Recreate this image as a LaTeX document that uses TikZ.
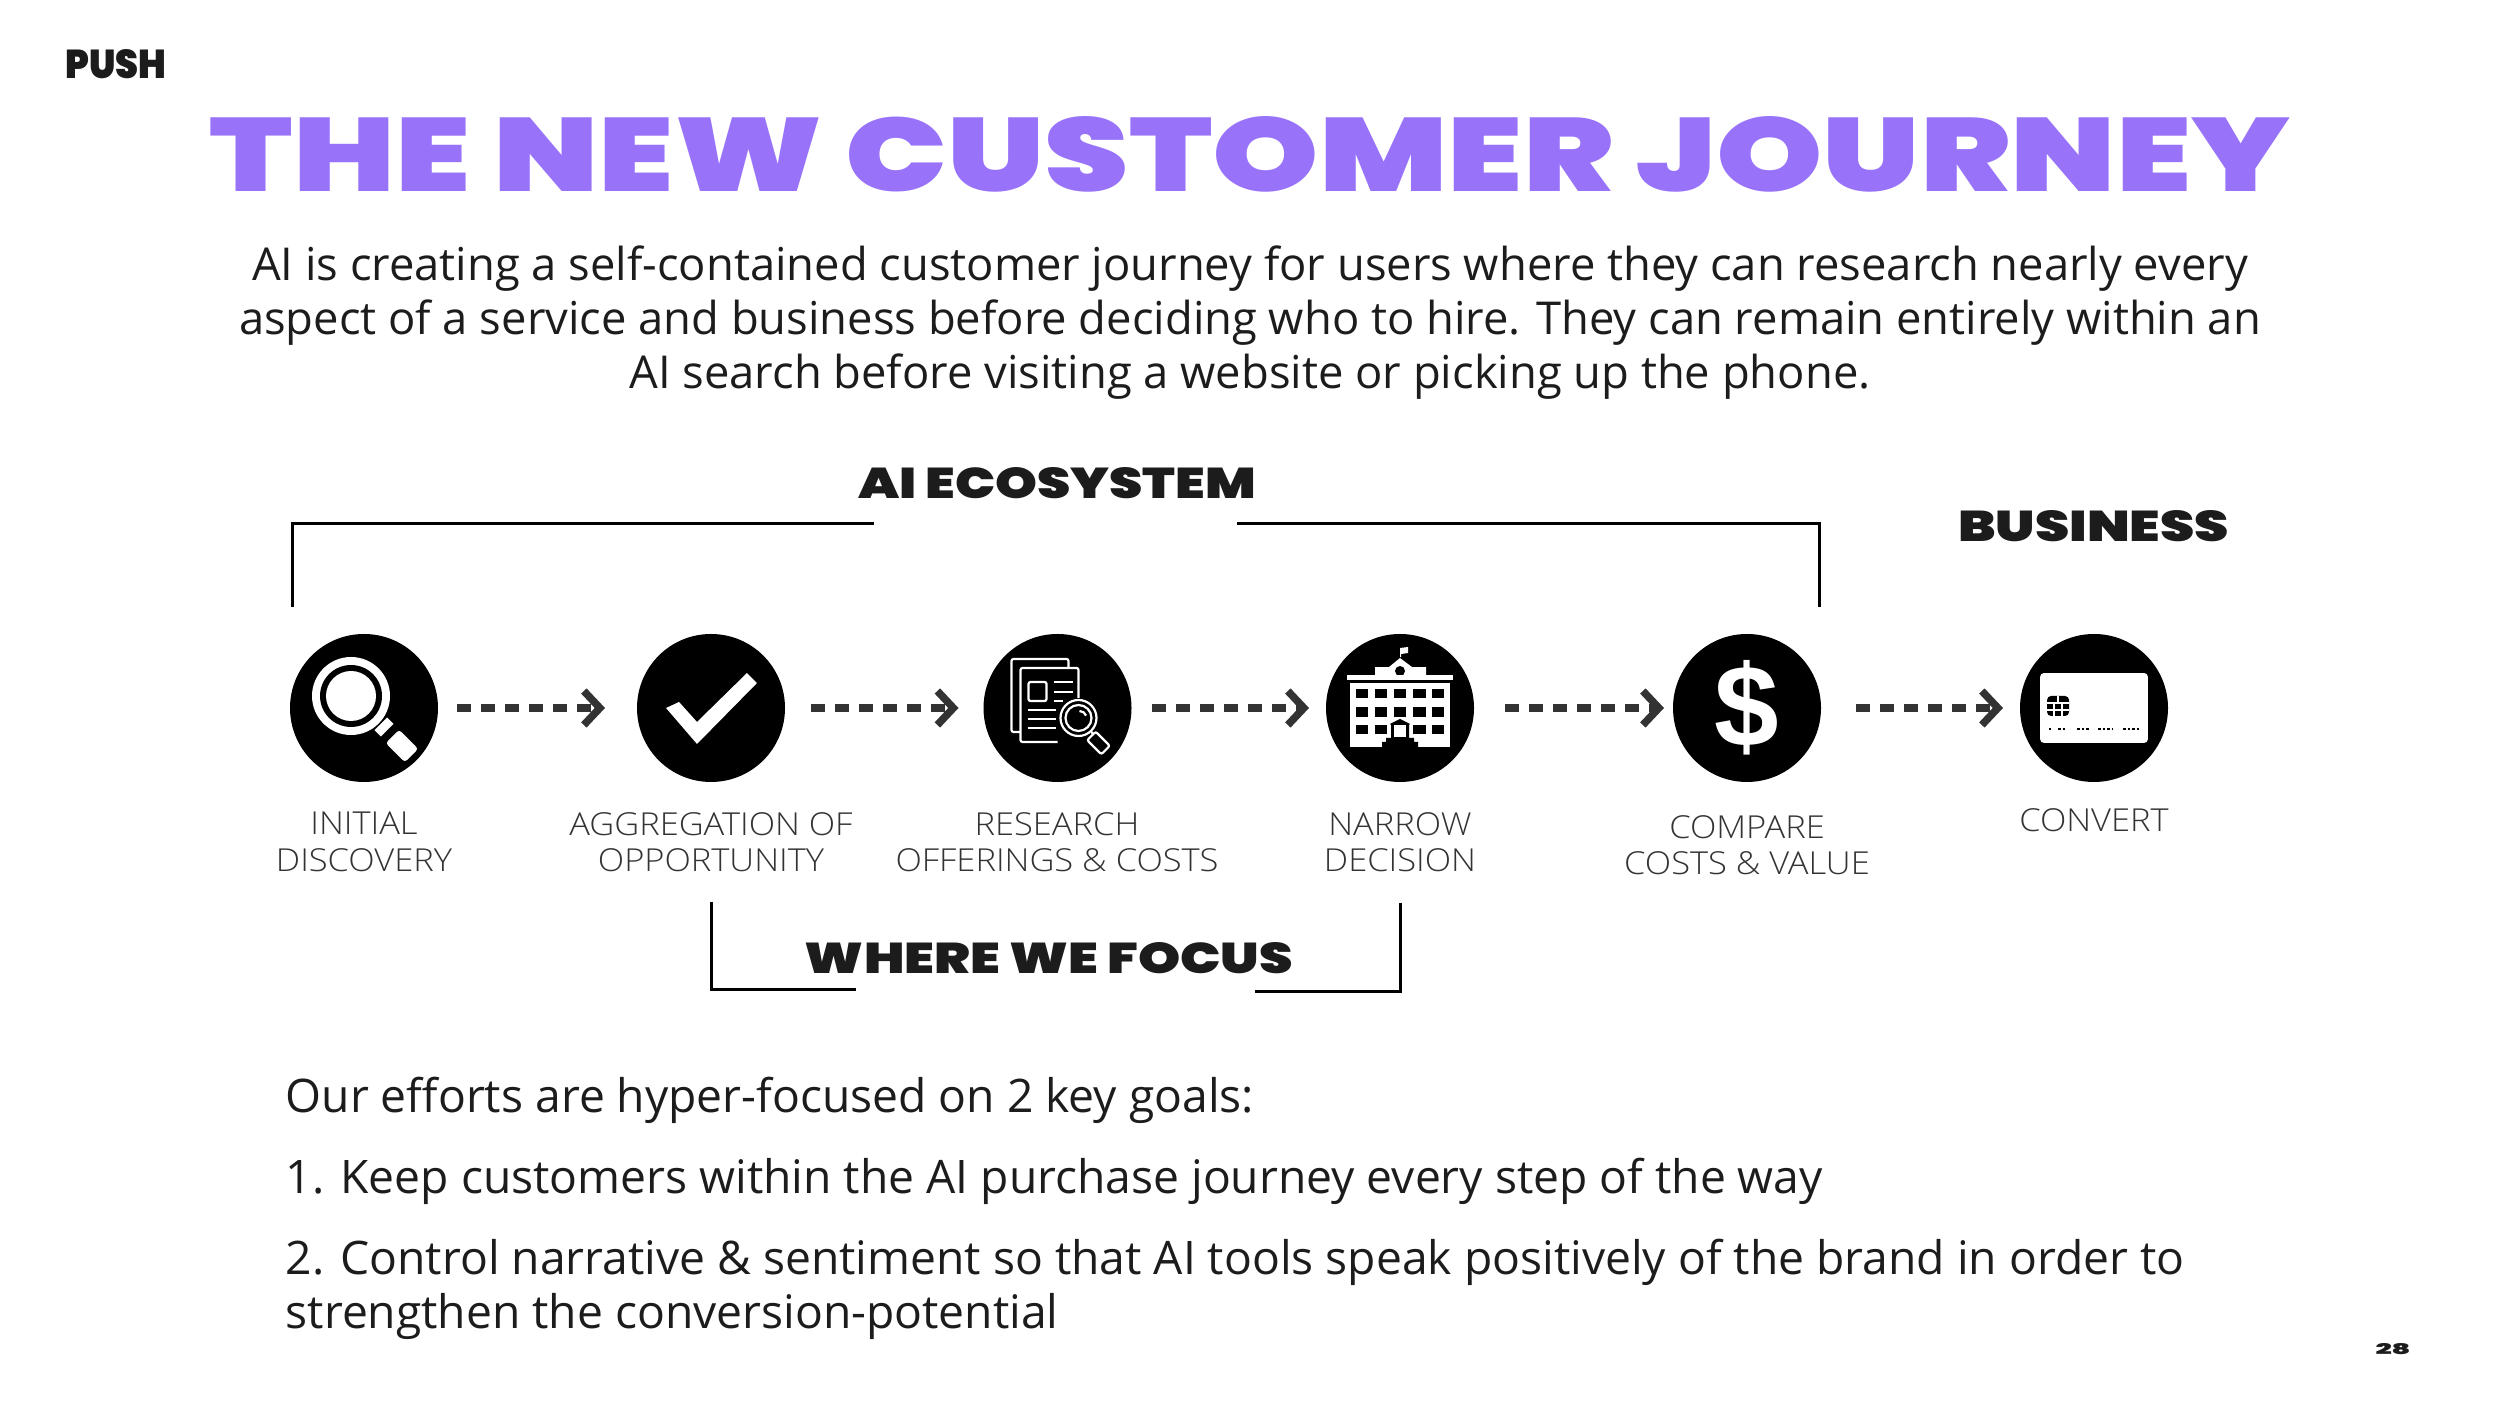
\documentclass[tikz,border=0pt]{standalone}
\usepackage{graphicx}
\usepackage{fontspec}
\setmainfont{Open Sans}
\newfontfamily\heavyfont{Poppins Black}
\newfontfamily\dollarfont{Liberation Sans Bold}
\newfontfamily\labelfont[FakeStretch=1.09]{Open Sans Light}
\usetikzlibrary{arrows.meta}
\definecolor{pushpurple}{HTML}{9873FA}
\definecolor{inkdark}{HTML}{1C1C1C}
\definecolor{labelgray}{HTML}{333333}
\tikzset{
  journeydot/.style={circle,fill=black,minimum size=1.48cm,inner sep=0pt,outer sep=0pt},
  flowarrow/.style={line width=0.075cm,labelgray,dash pattern=on 0.14cm off 0.10cm,
    -{Straight Barb[length=0.16cm,width=0.34cm,line width=0.075cm]}},
  bracketline/.style={line width=0.03cm,black},
  steplabel/.style={align=center,text=labelgray,font=\labelfont\fontsize{9}{10.4}\selectfont},
  introtext/.style={text=inkdark,font=\fontsize{12.9}{15.37}\selectfont},
  bodytext/.style={text=inkdark,font=\fontsize{13.15}{15.37}\selectfont},
  iconscale/.style={x=0.01cm,y=-0.01cm},
}
\newcommand{\heavytext}[3]{\resizebox{#1cm}{#2cm}{\heavyfont #3}}

\begin{document}
\begin{tikzpicture}

\useasboundingbox (0,0) rectangle (25,14.06);

% Logo and title
\node[text=inkdark,inner sep=0pt] (logo) at (1.16,13.415) {\heavytext{1.01}{0.29}{PUSH}};
\node[text=pushpurple,inner sep=0pt] (title) at (12.5,12.52) {\heavytext{20.8}{0.75}{THE NEW CUSTOMER JOURNEY}};

% Intro
\node[introtext,align=center] (intro) at (12.5,10.83) {AI is creating a self-contained customer journey for users where they can research nearly every\\
aspect of a service and business before deciding who to hire. They can remain entirely within an\\
AI search before visiting a website or picking up the phone.};

% Headings
\node[text=inkdark,inner sep=0pt] (aieco) at (10.57,9.23) {\heavytext{3.98}{0.31}{AI ECOSYSTEM}};
\node[text=inkdark,inner sep=0pt] (business) at (20.935,8.8) {\heavytext{2.71}{0.31}{BUSINESS}};
\node[text=inkdark,inner sep=0pt] (focus) at (10.49,4.48) {\heavytext{4.88}{0.31}{WHERE WE FOCUS}};

% Steps
\node[journeydot] (discovery) at (3.64,6.98) {};
\node[journeydot] (aggregation) at (7.11,6.98) {};
\node[journeydot] (research) at (10.575,6.98) {};
\node[journeydot] (narrow) at (14.00,6.98) {};
\node[journeydot,text=white,font=\dollarfont\fontsize{33}{33}\selectfont] (compare) at (17.47,6.98) {\$};
\node[journeydot] (convert) at (20.94,6.98) {};

% Step labels
\node[steplabel] (discoverylabel) at (3.64,5.64) {INITIAL\\DISCOVERY};
\node[steplabel] (aggregationlabel) at (7.11,5.64) {AGGREGATION OF\\OPPORTUNITY};
\node[steplabel] (researchlabel) at (10.57,5.64) {RESEARCH\\OFFERINGS \& COSTS};
\node[steplabel] (narrowlabel) at (14.00,5.64) {NARROW\\DECISION};
\node[steplabel] (comparelabel) at (17.47,5.61) {COMPARE\\COSTS \& VALUE};
\node[steplabel] (convertlabel) at (20.94,5.86) {CONVERT};

% Arrows
\draw[flowarrow,shorten <=0.19cm,shorten >=0.32cm] (discovery) -- (aggregation);
\draw[flowarrow,shorten <=0.26cm,shorten >=0.25cm] (aggregation) -- (research);
\draw[flowarrow,shorten <=0.20cm,shorten >=0.17cm] (research) -- (narrow);
\draw[flowarrow,shorten <=0.31cm,shorten >=0.09cm] (narrow) -- (compare);
\draw[flowarrow,shorten <=0.35cm,shorten >=0.17cm] (compare) -- (convert);

% Brackets
\coordinate (ailefttop) at (2.92,8.82);
\coordinate (ailefthome) at (2.92,7.99);
\coordinate (aileftend) at (8.74,8.82);
\coordinate (airighttop) at (18.19,8.82);
\coordinate (airighthome) at (18.19,7.99);
\coordinate (airightend) at (12.37,8.82);
\draw[bracketline] (ailefthome) -- (ailefttop) -- (aileftend);
\draw[bracketline] (airighthome) -- (airighttop) -- (airightend);
\coordinate (focuslefttop) at (7.115,5.04);
\coordinate (focusleftend) at (8.56,4.16);
\coordinate (focusrighttop) at (14.00,5.03);
\coordinate (focusrightend) at (12.55,4.14);
\draw[bracketline] (focuslefttop) |- (focusleftend);
\draw[bracketline] (focusrighttop) |- (focusrightend);

% Magnifier icon
\begin{scope}[shift={(discovery)},iconscale]
  \fill[white] (-13,-12) circle[radius=0.39cm];
  \fill[black] (-13,-12) circle[radius=0.31cm];
  \fill[white] (-13,-12) circle[radius=0.25cm];
  \fill[white,rotate around={-45:(20,19)}] (15.5,10) rectangle (24.5,28);
  \fill[white,rounded corners=0.03cm,rotate around={-45:(38,38)}] (24.5,28.5) rectangle (51.5,47.5);
\end{scope}

% Check icon
\begin{scope}[shift={(aggregation)},iconscale]
  \fill[white] (-45,0) -- (-14,36) -- (46,-25) -- (36,-35) -- (-14,14) -- (-32,-6) -- cycle;
\end{scope}

% Document icon
\begin{scope}[shift={(research)},iconscale,draw=white,line width=0.022cm,rounded corners=0.02cm]
  \draw (-37,24) -- (-46,24) -- (-46,-49) -- (11,-49) -- (11,-40);
  \draw (0,34) -- (-37,34) -- (-37,-40) -- (21,-40) -- (21,-10);
  \draw (-29,-26) rectangle (-11,-7);
  \draw (-4,-26) -- (15,-26);
  \draw (-4,-16) -- (15,-16);
  \draw (-4,-7) -- (5,-7);
  \draw (-30,2) -- (-2,2);
  \draw (-30,11) -- (-2,11);
  \draw (-30,20) -- (-2,20);
  \draw[fill=black] (21,10) circle[radius=0.18cm];
  \draw (21,10) circle[radius=0.13cm];
  \draw (22,3) arc[start angle=90,end angle=20,radius=0.07cm];
  \draw (34,24) -- (36,27);
  \draw[rotate around={-45:(41,35)}] (31,29) rectangle (51,41);
\end{scope}

% Building icon
\begin{scope}[shift={(narrow)},iconscale]
  \fill[white] (0,-60) -- (8,-61) -- (8,-55) -- (1,-54) -- (1,-51) -- (0,-51) -- cycle;
  \fill[white] (-25,-33) -- (-25,-41) -- (-11,-41) -- (0,-50) -- (12,-41) -- (26,-41) -- (26,-33) -- cycle;
  \fill[black] (0,-37) circle[radius=0.05cm];
  \fill[white] (-53,-33) rectangle (53,-28);
  \fill[white] (-50,-25) rectangle (50,39);
  \foreach \rowtop/\rowbot in {-19/-10,-1/9,17/26}
    \foreach \colleft/\colright in {-44/-32,-25/-13,-6/6,13/26,32/44}
      \fill[black] (\colleft,\rowtop) rectangle (\colright,\rowbot);
  \fill[black] (-10,16) -- (0,11) -- (10,16) -- (9,17) -- (9,30) -- (-9,30) -- (-9,17) -- cycle;
  \fill[white] (-6,17) rectangle (6,29);
  \fill[black] (-18,39) -- (-18,34) -- (-14,34) -- (-14,30) -- (14,30) -- (14,34) -- (18,34) -- (18,39) -- cycle;
\end{scope}

% Card icon
\begin{scope}[shift={(convert)},iconscale]
  \fill[white,rounded corners=0.04cm] (-54,-35) rectangle (54,35);
  \fill[black,rounded corners=0.04cm] (-47,-12) rectangle (-25,8);
  \draw[white,line width=0.012cm] (-47,-5) -- (-25,-5) (-47,2) -- (-25,2) (-40,-5) -- (-40,8) (-32,-5) -- (-32,8) (-36,-12) -- (-36,-5);
  \draw[black,line width=0.014cm,dash pattern=on 0.025cm off 0.02cm] (-45,21) -- (-43,21) (-36,21) -- (-27,21) (-17,21) -- (-4,21) (4,21) -- (18,21) (29,21) -- (46,21);
\end{scope}

% Goals
\node[bodytext,anchor=west,inner sep=0pt] (goalintro) at (2.85,3.06) {Our efforts are hyper-focused on 2 key goals:};
\node[bodytext,anchor=west,inner sep=0pt] (goalone) at (2.85,2.25) {1. Keep customers within the AI purchase journey every step of the way};
\node[bodytext,anchor=north west,inner sep=0pt,align=left] (goaltwo) at (2.85,1.675) {2. Control narrative \& sentiment so that AI tools speak positively of the brand in order to\\strengthen the conversion-potential};

% Page number
\node[text=inkdark,inner sep=0pt] (pagenum) at (23.93,0.57) {\heavytext{0.35}{0.11}{28}};

\end{tikzpicture}
\end{document}
